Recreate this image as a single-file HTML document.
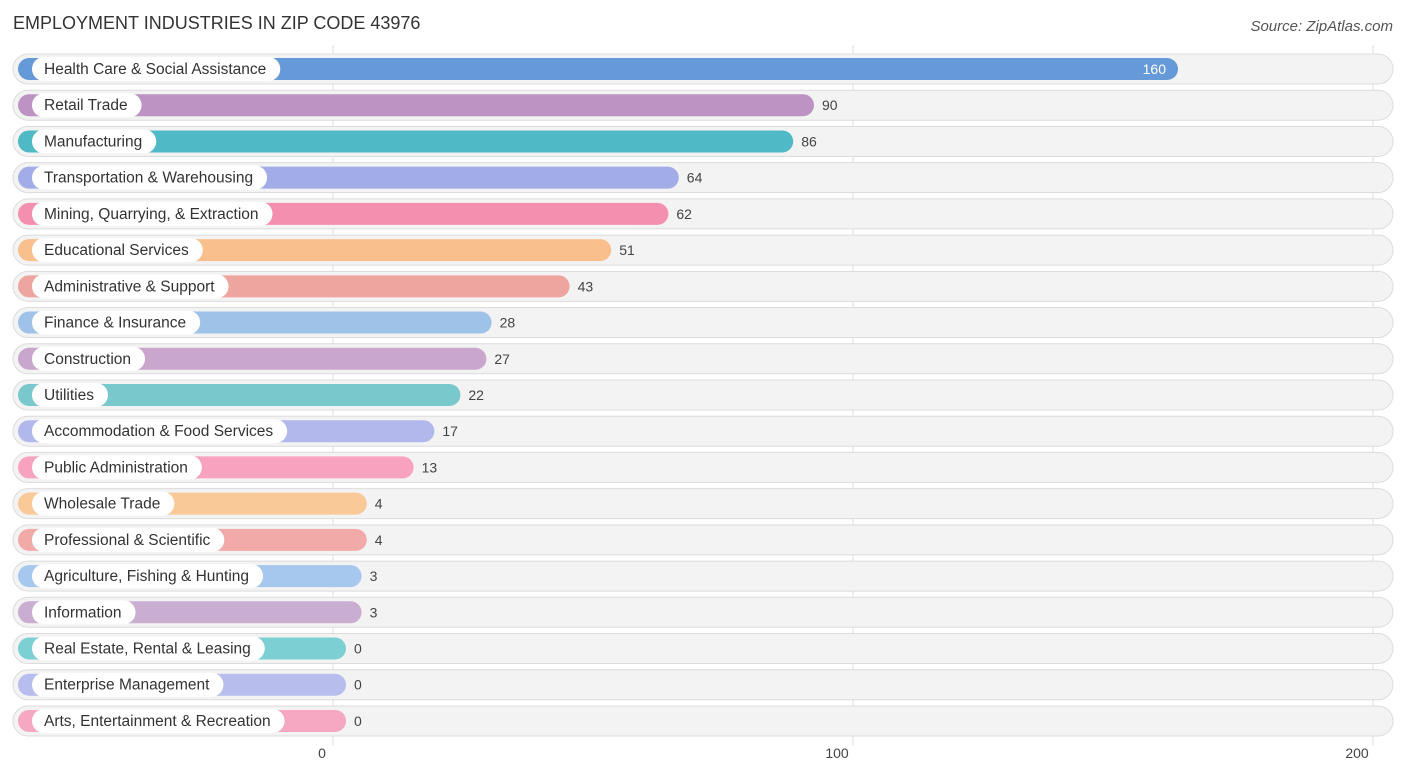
<!DOCTYPE html>
<html><head><meta charset="utf-8"><style>
body{margin:0;background:#fff;font-family:"Liberation Sans",sans-serif;}
svg text{font-family:"Liberation Sans",sans-serif;}
</style></head><body>
<svg width="1406" height="777" id="chart">
<text x="13" y="29" font-size="18" fill="#333">EMPLOYMENT INDUSTRIES IN ZIP CODE 43976</text>
<text x="1393" y="31" font-size="15" fill="#555" font-style="italic" text-anchor="end">Source: ZipAtlas.com</text>
<g id="grid"></g><g id="rows"></g><g id="ticks"></g>
</svg>
<script>
const categories=["Health Care & Social Assistance","Retail Trade","Manufacturing","Transportation & Warehousing","Mining, Quarrying, & Extraction","Educational Services","Administrative & Support","Finance & Insurance","Construction","Utilities","Accommodation & Food Services","Public Administration","Wholesale Trade","Professional & Scientific","Agriculture, Fishing & Hunting","Information","Real Estate, Rental & Leasing","Enterprise Management","Arts, Entertainment & Recreation"];
const values=[160,90,86,64,62,51,43,28,27,22,17,13,4,4,3,3,0,0,0];
const colors=["#6699d8","#bc93c3","#4fb9c5","#a2ace6","#f58fb0","#f9c08e","#eea5a0","#9fc2e8","#c9a6cc","#78c8cc","#b2b8ec","#f7a3c0","#f9c998","#f2aaa8","#a7c8ee","#c9aed2","#7ccfd2","#b7bdec","#f6a7c2"];
const ticks=[0,100,200];
const NS="http://www.w3.org/2000/svg";
const x0=333, scale=5.2, barStart=18, minEnd=346;
const xPos=v=>x0+v*scale;
const barEnd=v=>minEnd+v*scale;
const rowY=i=>69+i*36.22;
function mk(t,a,p){const e=document.createElementNS(NS,t);for(const k in a)e.setAttribute(k,a[k]);p.appendChild(e);return e;}
const grid=document.getElementById('grid'),rows=document.getElementById('rows'),tk=document.getElementById('ticks');
ticks.forEach(t=>{
 const l=mk('line',{x1:xPos(t),x2:xPos(t),y1:45,y2:745,stroke:'#ddd','stroke-width':1},grid);
 
 
 const tx=mk('text',{x:xPos(t)-(t===0?11:16),y:758,'font-size':14,fill:'#444','text-anchor':'middle'},tk);
 tx.textContent=t;
 
 
});
categories.forEach((c,i)=>{
 const y=rowY(i);
 const g=mk('g',{},rows);
 
 
 const bg=mk('rect',{x:13,y:y-15,width:1380,height:30,rx:15,fill:'#f3f3f3',stroke:'#dcdcdc','stroke-width':1},g);
 
 
 const b=mk('rect',{x:barStart,y:y-11,width:barEnd(values[i])-barStart,height:22,rx:11,fill:colors[i]},g);
 
 
 const lt=mk('text',{x:44,y:y+5,'font-size':15.5,fill:'#333'},g);
 lt.textContent=c;
 const w=lt.getComputedTextLength();
 const lp=mk('rect',{x:32,y:y-12,width:w+26,height:24,rx:12,fill:'#fff'},g);
 g.insertBefore(lp,lt);
 
 
 
 
 const inside=values[i]>=150;
 const vt=mk('text',{x:inside?barEnd(values[i])-12:barEnd(values[i])+8,y:y+5,'font-size':14,fill:inside?'#fff':'#444','text-anchor':inside?'end':'start'},g);
 vt.textContent=values[i];
 
 
});
</script>
</body></html>
